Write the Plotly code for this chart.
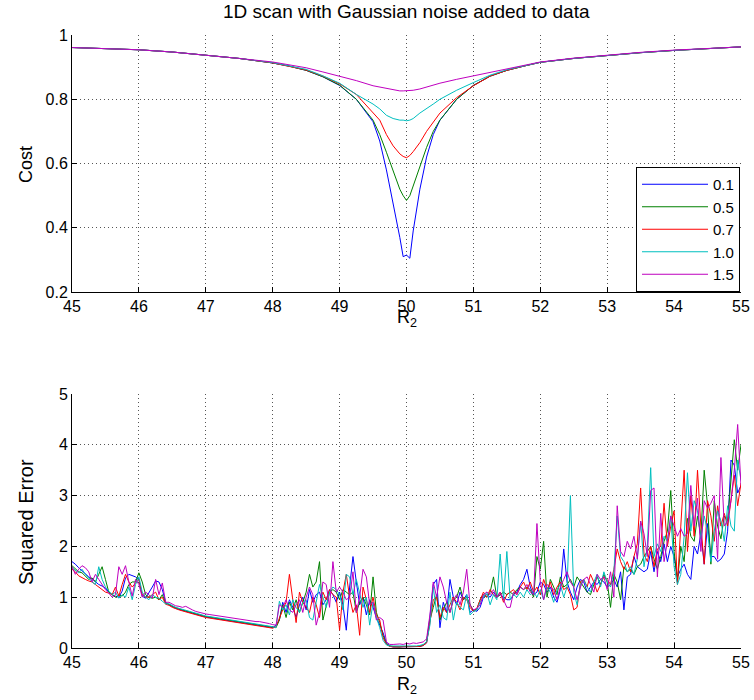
import numpy as np
import plotly.graph_objects as go

# ---------------- data ----------------
labels = ["0.1", "0.5", "0.7", "1.0", "1.5"]
colors = ["#0000ff", "#008000", "#ff0000", "#00bfbf", "#bf00bf"]

# top panel: cost vs R2
r2_top = [45, 45.5, 46, 46.5, 47, 47.5, 48, 48.25, 48.5, 48.75, 49, 49.25, 49.5, 49.6, 49.7,
          49.8, 49.9, 49.95, 50, 50.05, 50.1, 50.2, 50.3, 50.4, 50.5, 50.75, 51, 51.25, 51.5,
          51.75, 52, 52.5, 53, 53.5, 54, 54.5, 55]
cost_01 = [0.961, 0.958, 0.954, 0.947, 0.938, 0.927, 0.913, 0.903, 0.890, 0.870, 0.843, 0.800, 0.730, 0.670, 0.580,
           0.480, 0.370, 0.310, 0.315, 0.305, 0.390, 0.520, 0.620, 0.690, 0.735, 0.800, 0.843, 0.872, 0.890,
           0.903, 0.915, 0.927, 0.937, 0.945, 0.952, 0.958, 0.963]
cost_05 = [0.961, 0.958, 0.954, 0.947, 0.938, 0.927, 0.913, 0.903, 0.890, 0.870, 0.844, 0.800, 0.735, 0.690, 0.635,
           0.575, 0.520, 0.500, 0.485, 0.500, 0.530, 0.590, 0.650, 0.700, 0.735, 0.800, 0.843, 0.872, 0.890,
           0.903, 0.915, 0.927, 0.937, 0.945, 0.952, 0.958, 0.963]
cost_07 = [0.961, 0.958, 0.954, 0.947, 0.938, 0.927, 0.913, 0.903, 0.891, 0.872, 0.848, 0.815, 0.760, 0.735, 0.690,
           0.655, 0.630, 0.622, 0.618, 0.625, 0.637, 0.665, 0.700, 0.730, 0.757, 0.805, 0.842, 0.872, 0.890,
           0.903, 0.915, 0.927, 0.937, 0.945, 0.952, 0.958, 0.963]
cost_10 = [0.961, 0.958, 0.954, 0.947, 0.938, 0.927, 0.914, 0.904, 0.893, 0.873, 0.850, 0.815, 0.785, 0.770, 0.750,
           0.740, 0.735, 0.735, 0.733, 0.735, 0.740, 0.757, 0.770, 0.785, 0.800, 0.828, 0.852, 0.875, 0.892,
           0.904, 0.915, 0.927, 0.937, 0.945, 0.952, 0.958, 0.963]
cost_15 = [0.961, 0.958, 0.954, 0.947, 0.938, 0.927, 0.916, 0.908, 0.898, 0.885, 0.872, 0.858, 0.842, 0.838, 0.832,
           0.828, 0.826, 0.826, 0.826, 0.827, 0.828, 0.832, 0.838, 0.845, 0.850, 0.862, 0.873, 0.884, 0.895,
           0.905, 0.916, 0.928, 0.938, 0.946, 0.953, 0.958, 0.963]

# bottom panel: squared error vs R2 (R2 from 45 to 55 in steps of 0.05)
r2_err = np.round(np.arange(45.0, 55.0001, 0.05), 2)
err_01 = [1.70, 1.65, 1.58, 1.52, 1.47, 1.40, 1.36, 1.30, 1.25, 1.22, 1.18, 1.10, 1.05, 1.02, 1.00, 1.12, 1.38, 1.45, 1.42, 1.40,
          1.35, 1.02, 0.98, 1.08, 1.20, 1.32, 1.30, 1.15, 0.90,
          0.85, 0.81, 0.78, 0.76, 0.74, 0.72, 0.70, 0.68, 0.66, 0.64, 0.63, 0.61, 0.60, 0.59, 0.58, 0.57, 0.56, 0.55, 0.54, 0.53,
          0.52, 0.51, 0.50, 0.49, 0.48, 0.47, 0.46, 0.45, 0.44, 0.43, 0.42, 0.40,
          0.45, 0.55, 0.90, 0.70, 0.95, 0.80, 0.60, 0.85, 1.00, 0.75, 1.15, 0.90, 1.05, 1.10, 0.85, 0.95, 1.15, 1.05, 0.90, 1.10,
          0.85, 0.35, 1.20, 1.80, 1.30, 0.85, 1.00, 0.65, 0.95, 0.80, 0.60, 0.45,
          0.30, 0.10, 0.04,
          0.02, 0.02, 0.03, 0.02, 0.02, 0.03, 0.02, 0.03, 0.03, 0.05, 0.10,
          0.60, 1.25, 1.35, 0.40, 0.90, 0.70, 1.35, 1.00, 0.85, 1.10, 0.95, 1.05, 0.70, 0.75,
          0.72, 0.80, 1.00, 1.05, 1.00, 1.10, 1.00, 1.05, 1.00, 0.95, 0.95, 1.05, 1.10, 1.25, 1.35, 1.55, 1.20, 1.05, 1.10, 1.30,
          1.25, 1.10, 1.20, 1.00, 0.90, 1.15, 1.95, 1.30, 1.10, 0.95, 1.20, 1.35, 1.30, 1.10, 1.20, 1.30, 1.25, 1.35, 1.30, 1.20,
          1.25, 1.35, 1.20, 1.50, 0.75, 1.40, 1.45, 1.80, 1.60, 1.55, 1.50, 1.55, 1.90, 1.50, 1.90, 1.70, 2.05, 1.70, 2.00, 1.80,
          1.40, 1.55, 1.65, 1.45, 1.35, 2.00, 1.85, 2.25, 1.65, 2.45, 1.80, 1.80, 1.70, 1.75, 1.85, 2.30, 3.70, 3.60, 3.05, 3.20]
err_05 = [1.62, 1.55, 1.50, 1.48, 1.42, 1.35, 1.38, 1.30, 1.45, 1.60, 1.35, 1.10, 1.05, 1.00, 1.05, 1.02, 1.10, 1.25, 1.30, 1.30,
          1.48, 1.30, 1.05, 1.00, 0.98, 1.00, 0.95, 1.05, 0.88,
          0.86, 0.82, 0.79, 0.77, 0.75, 0.73, 0.71, 0.69, 0.67, 0.65, 0.64, 0.62, 0.61, 0.60, 0.59, 0.58, 0.57, 0.56, 0.55, 0.54,
          0.53, 0.52, 0.51, 0.50, 0.49, 0.48, 0.47, 0.46, 0.45, 0.44, 0.43, 0.41,
          0.40, 0.55, 0.85, 0.60, 0.90, 0.75, 0.95, 0.70, 0.90, 1.10, 1.45, 1.20, 1.30, 1.70, 0.55, 0.85, 1.10, 1.15, 1.10, 0.95,
          1.15, 1.10, 1.05, 1.10, 0.70, 0.90, 1.00, 0.85, 0.65, 1.40, 0.70, 0.50,
          0.25, 0.08, 0.04,
          0.03, 0.02, 0.02, 0.03, 0.03, 0.02, 0.03, 0.03, 0.04, 0.06, 0.12,
          0.55, 0.80, 1.05, 0.55, 0.75, 0.90, 0.70, 0.95, 1.00, 1.20, 0.95, 1.00, 0.85, 0.72,
          0.75, 0.95, 1.05, 1.00, 1.10, 1.40, 1.00, 1.05, 1.10, 1.05, 1.10, 1.05, 1.15, 1.20, 1.15, 1.20, 1.15, 1.00, 1.80, 1.55,
          2.10, 1.00, 1.35, 1.20, 1.05, 1.40, 1.20, 1.25, 1.35, 1.20, 1.40, 1.30, 1.20, 1.10, 1.05, 1.25, 1.40, 1.25, 1.45, 1.30,
          0.80, 1.45, 1.30, 0.95, 1.60, 1.50, 1.55, 1.45, 1.60, 1.65, 1.80, 1.90, 2.00, 1.75, 1.55, 1.80, 2.10, 2.30, 3.10, 1.90,
          1.30, 2.00, 1.70, 2.55, 2.20, 2.10, 2.60, 2.20, 3.50, 2.80, 1.65, 2.90, 2.40, 2.15, 2.60, 2.50, 3.30, 4.10, 3.50, 4.00]
err_07 = [1.55, 1.50, 1.42, 1.38, 1.35, 1.32, 1.30, 1.25, 1.20, 1.15, 1.10, 1.08, 1.05, 1.20, 1.02, 1.25, 1.45, 1.30, 1.20, 1.28,
          1.35, 1.05, 1.00, 1.00, 1.05, 1.10, 0.95, 1.00, 0.86,
          0.84, 0.80, 0.77, 0.75, 0.73, 0.71, 0.69, 0.67, 0.65, 0.63, 0.62, 0.60, 0.59, 0.58, 0.57, 0.56, 0.55, 0.54, 0.53, 0.52,
          0.51, 0.50, 0.49, 0.48, 0.47, 0.46, 0.45, 0.44, 0.43, 0.42, 0.41, 0.39,
          0.42, 0.60, 0.75, 0.90, 1.45, 0.95, 0.50, 1.10, 0.90, 0.80, 0.70, 1.00, 0.85, 0.60, 1.10, 0.95, 1.15, 1.05, 1.00, 0.35,
          1.10, 1.45, 1.00, 0.70, 0.85, 0.25, 1.20, 0.95, 0.70, 1.00, 0.65, 0.55,
          0.20, 0.07, 0.03,
          0.02, 0.02, 0.02, 0.02, 0.03, 0.02, 0.02, 0.03, 0.03, 0.05, 0.10,
          0.50, 0.95, 1.00, 0.60, 0.80, 0.70, 0.85, 1.00, 0.90, 0.75, 1.00, 0.95, 0.80, 0.72,
          0.78, 0.95, 1.10, 1.00, 1.15, 1.05, 1.00, 1.10, 0.90, 1.05, 1.10, 1.15, 1.05, 1.20, 1.30, 1.15, 1.30, 1.10, 1.20, 1.05,
          1.35, 1.15, 1.30, 1.05, 1.20, 1.30, 1.15, 1.20, 1.05, 0.75, 0.80, 1.30, 1.35, 1.20, 1.45, 1.30, 1.10, 1.25, 1.40, 1.35,
          1.25, 1.55, 1.95, 1.70, 1.55, 1.70, 1.50, 1.80, 2.05, 3.15, 1.85, 1.70, 2.00, 1.60, 1.95, 2.00, 2.85, 2.00, 2.40, 2.70,
          1.25, 2.40, 3.50, 1.90, 3.00, 2.20, 3.50, 2.40, 1.65, 2.90, 2.60, 2.10, 2.80, 2.40, 2.65, 2.40, 2.90, 3.40, 2.80, 3.25]
err_10 = [1.58, 1.52, 1.48, 1.55, 1.45, 1.38, 1.30, 1.25, 1.60, 1.35, 1.20, 1.12, 1.05, 1.10, 0.98, 1.05, 1.00, 1.20, 0.95, 1.25,
          1.40, 1.10, 1.00, 0.95, 1.05, 1.00, 0.98, 0.92, 0.87,
          0.87, 0.83, 0.80, 0.78, 0.76, 0.74, 0.72, 0.70, 0.68, 0.66, 0.65, 0.63, 0.62, 0.61, 0.60, 0.59, 0.58, 0.57, 0.56, 0.55,
          0.54, 0.53, 0.52, 0.51, 0.50, 0.49, 0.48, 0.47, 0.46, 0.45, 0.44, 0.42,
          0.40, 0.92, 0.75, 0.85, 0.65, 0.95, 0.80, 0.70, 0.90, 0.95, 0.60, 0.55, 0.90, 1.25, 1.00, 0.80, 1.10, 1.20, 1.15, 1.05,
          0.75, 1.45, 1.40, 1.05, 1.35, 1.10, 0.80, 1.00, 0.45, 0.90, 0.60, 0.40,
          0.15, 0.06, 0.04,
          0.04, 0.04, 0.03, 0.04, 0.04, 0.03, 0.04, 0.04, 0.05, 0.07, 0.12,
          0.45, 1.20, 0.70, 0.85, 0.60, 0.55, 1.10, 0.55, 0.90, 0.80, 0.75, 1.05, 0.65, 0.72,
          0.75, 0.90, 1.00, 1.10, 0.85, 1.05, 0.95, 1.85, 0.95, 1.90, 0.95, 1.05, 1.00, 1.10, 1.00, 1.15, 1.05, 1.10, 1.00, 1.15,
          0.95, 1.20, 1.10, 0.90, 1.15, 1.25, 1.00, 1.20, 3.00, 1.10, 0.85, 1.25, 1.35, 1.20, 1.10, 1.30, 1.45, 1.20, 1.50, 1.30,
          1.20, 1.50, 2.60, 1.80, 1.70, 1.50, 1.60, 1.45, 1.75, 2.50, 1.60, 2.00, 3.55, 1.80, 2.05, 1.90, 2.20, 2.10, 2.60, 1.60,
          1.25, 1.45, 2.20, 3.45, 2.30, 2.90, 2.70, 2.15, 2.60, 2.30, 1.70, 2.30, 2.70, 2.50, 2.10, 2.80, 2.40, 2.30, 3.70, 3.30]
err_15 = [1.60, 1.45, 1.55, 1.62, 1.58, 1.50, 1.30, 1.45, 1.35, 1.25, 1.15, 1.08, 1.00, 1.05, 1.60, 1.45, 1.62, 1.30, 1.02, 1.35,
          1.25, 1.00, 1.10, 1.05, 0.98, 1.35, 1.05, 1.28, 0.90,
          0.90, 0.86, 0.83, 0.82, 0.80, 0.82, 0.78, 0.75, 0.72, 0.70, 0.69, 0.67, 0.66, 0.65, 0.64, 0.62, 0.61, 0.60, 0.59, 0.58,
          0.57, 0.57, 0.56, 0.55, 0.54, 0.53, 0.52, 0.52, 0.51, 0.50, 0.48, 0.46,
          0.45, 0.85, 0.80, 0.95, 0.75, 0.70, 0.85, 0.95, 0.70, 1.00, 1.20, 1.05, 0.45, 0.70, 1.30, 1.25, 0.80, 1.70, 1.10, 1.20,
          1.10, 0.95, 1.00, 1.50, 0.70, 1.00, 1.55, 1.40, 0.85, 0.90, 0.55, 0.60,
          0.55, 0.12, 0.07,
          0.07, 0.08, 0.08, 0.07, 0.09, 0.08, 0.10, 0.09, 0.10, 0.12, 0.18,
          0.65, 1.30, 1.00, 1.40, 1.20, 0.90, 0.70, 0.95, 1.05, 0.85, 1.10, 1.55, 0.85, 0.75,
          0.78, 0.85, 1.05, 1.10, 1.05, 1.15, 1.00, 1.10, 0.95, 0.80, 0.80, 1.10, 1.05, 1.20, 1.15, 1.25, 1.10, 1.05, 2.45, 1.30,
          0.95, 1.25, 1.20, 1.15, 0.95, 1.20, 1.35, 1.50, 1.30, 1.20, 0.95, 1.20, 1.35, 1.40, 1.25, 1.10, 1.45, 1.35, 1.40, 1.15,
          1.50, 1.00, 2.80, 1.90, 1.80, 2.10, 1.95, 2.20, 1.75, 2.50, 2.25, 1.80, 3.10, 3.15, 1.40, 2.65, 1.70, 2.10, 2.60, 2.40,
          2.20, 2.35, 2.20, 2.25, 3.20, 2.40, 2.95, 1.90, 2.90, 2.75, 2.85, 3.00, 1.75, 3.75, 2.40, 2.50, 2.90, 3.50, 4.40, 3.20]

cost_series = [cost_01, cost_05, cost_07, cost_10, cost_15]
err_series = [err_01, err_05, err_07, err_10, err_15]

# ---------------- figure ----------------
fig = go.Figure()
for lab, col, ys in zip(labels, colors, cost_series):
    fig.add_trace(go.Scatter(x=r2_top, y=ys, mode="lines", name=lab,
                             line=dict(color=col, width=1), xaxis="x", yaxis="y"))
for lab, col, ys in zip(labels, colors, err_series):
    fig.add_trace(go.Scatter(x=r2_err, y=ys, mode="lines", name=lab, showlegend=False,
                             line=dict(color=col, width=1), xaxis="x2", yaxis="y2"))

W, H = 754, 700
xl, xr = 72, 741
font = "Liberation Sans, Arial, Helvetica, sans-serif"

axis_common = dict(showline=True, linecolor="black", linewidth=1, mirror=False,
                   ticks="inside", ticklen=5, tickcolor="black", tickwidth=1,
                   showgrid=True, gridcolor="#555555", griddash="1px,3px", gridwidth=1,
                   zeroline=False, automargin=False,
                   tickfont=dict(family=font, size=16, color="black"))

fig.update_layout(
    template="none",
    width=W, height=H,
    margin=dict(l=0, r=0, t=0, b=0, pad=0),
    paper_bgcolor="white", plot_bgcolor="white",
    font=dict(family=font, color="black"),
    xaxis=dict(domain=[xl / W, xr / W], range=[45, 55], dtick=1, tick0=45,
               anchor="y", **axis_common),
    yaxis=dict(domain=[(H - 292) / H, (H - 35) / H], range=[0.2, 1], dtick=0.2, tick0=0.2,
               anchor="x", **axis_common),
    xaxis2=dict(domain=[xl / W, xr / W], range=[45, 55], dtick=1, tick0=45,
                anchor="y2", **axis_common),
    yaxis2=dict(domain=[(H - 648) / H, (H - 394) / H], range=[0, 5], dtick=1, tick0=0,
                anchor="x2", **axis_common),
    legend=dict(x=740 / W, xanchor="right", y=(H - 167) / H, yanchor="top",
                bgcolor="white", bordercolor="black", borderwidth=1,
                font=dict(family=font, size=15, color="black"),
                tracegroupgap=0, itemwidth=66),
    showlegend=True,
)

ann = [
    dict(text="1D scan with Gaussian noise added to data", x=406 / W, y=(H - 12) / H,
         font=dict(size=19), yanchor="middle"),
    dict(text="Cost", x=26 / W, y=(H - 165) / H, textangle=-90, font=dict(size=18), yanchor="middle"),
    dict(text="R<sub>2</sub>", x=407 / W, y=(H - 305) / H, font=dict(size=18), yanchor="top"),
    dict(text="Squared Error", x=26 / W, y=(H - 522) / H, textangle=-90, font=dict(size=20), yanchor="middle"),
    dict(text="R<sub>2</sub>", x=407 / W, y=(H - 672) / H, font=dict(size=18), yanchor="top"),
]
for a in ann:
    a.update(xref="paper", yref="paper", showarrow=False, xanchor="center")
    a["font"].update(family=font, color="black")
fig.update_layout(annotations=ann)

fig.write_html("out.html", config={"displayModeBar": False},
               post_script="document.body.style.margin='0px';")
